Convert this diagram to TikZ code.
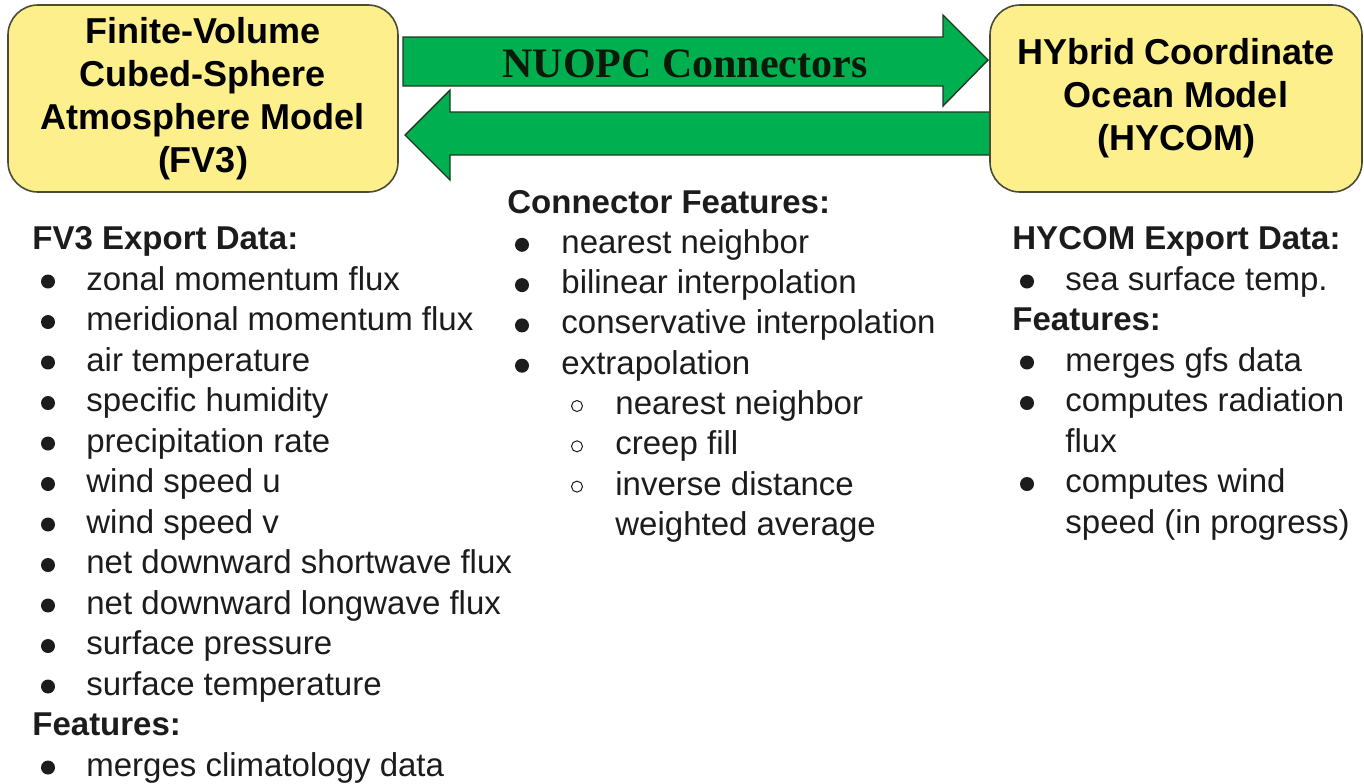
\documentclass[tikz,border=0pt]{standalone}
\usepackage{fontspec}
\setmainfont{Liberation Sans}
\newfontfamily\connfont{Liberation Serif}
\usetikzlibrary{positioning}
\definecolor{modelyellow}{HTML}{FCEF8C}
\definecolor{boxedge}{HTML}{4A4A3A}
\definecolor{nuopcgreen}{HTML}{00B050}
\definecolor{arrowedge}{HTML}{1E3A1E}
\definecolor{nuopcdark}{HTML}{0A1A0A}
\definecolor{listtext}{HTML}{1C1C1C}
\tikzset{
  model/.style={
    rectangle, draw=boxedge, fill=modelyellow, rounded corners=15pt,
    minimum width=#1, minimum height=93.5pt, line width=0.8pt,
    align=center, font=\bfseries\fontsize{18}{21.5}\selectfont
  },
  blockarrow/.style={fill=nuopcgreen, draw=arrowedge, line width=0.7pt, line join=miter},
  heading/.style={anchor=base west, inner sep=0pt, text=listtext, font=\bfseries\fontsize{16.5}{20}\selectfont},
  item/.style={anchor=base west, inner sep=0pt, text=listtext, font=\fontsize{16.5}{20}\selectfont},
  dot/.style={circle, fill=listtext, inner sep=0pt, minimum size=7pt},
  ring/.style={circle, draw=listtext, line width=0.5pt, inner sep=0pt, minimum size=5.5pt},
}
\begin{document}
\begin{tikzpicture}[x=0.5pt, y=-0.5pt]
\useasboundingbox (0,0) rectangle (1364,783);

% Connector arrows
\draw[blockarrow] (403,37) -- (943,37) -- (943,15) -- (988,60) -- (943,106) -- (943,86) -- (403,86) -- cycle;
\draw[blockarrow] (990,112) -- (450,112) -- (450,90) -- (405,135) -- (450,180) -- (450,155) -- (990,155) -- cycle;
\node[font=\connfont\bfseries\fontsize{21}{24}\selectfont, text=nuopcdark, inner sep=0pt, anchor=base] (nuopc) at (685,77) {NUOPC Connectors};

% Model boxes
\node[model=195pt] (fv3) at (203,98.5) {Finite-Volume\\Cubed-Sphere\\Atmosphere Model\\(FV3)};
\node[model=186pt] (hycom) at (1176,98.5) {HYbrid Coordinate\\Ocean Model\\(HYCOM)};

% FV3 list
\node[heading] (fvhead) at (32,249.5) {FV3 Export Data:};
\foreach \txt [count=\i] in {zonal momentum flux, meridional momentum flux, air temperature,
  specific humidity, precipitation rate, wind speed u, wind speed v,
  net downward shortwave flux, net downward longwave flux, surface pressure,
  surface temperature} {
  \node[item] (fvitem\i) at (86,249.5+40.5*\i) {\txt};
  \node[dot] (fvdot\i) at (48,241+40.5*\i) {};
}
\node[heading] (fvfeat) at (32,735.5) {Features:};
\node[item] (fvmerge) at (86,776) {merges climatology data};
\node[dot] (fvmergedot) at (48,767.5) {};

% Connector list
\node[heading] (connhead) at (507,213) {Connector Features:};
\foreach \txt [count=\i] in {nearest neighbor, bilinear interpolation,
  conservative interpolation, extrapolation} {
  \node[item] (conn\i) at (561,213+40.3*\i) {\txt};
  \node[dot] (conndot\i) at (522,204.5+40.3*\i) {};
}
\foreach \txt [count=\i from 5] in {nearest neighbor, creep fill, inverse distance} {
  \node[item] (extra\i) at (615,213+40.3*\i) {\txt};
  \node[ring] (extraring\i) at (577,204.5+40.3*\i) {};
}
\node[item] (extra8) at (615,535.5) {weighted average};

% HYCOM list
\node[heading] (hyhead) at (1012,249.5) {HYCOM Export Data:};
\node[item] (hysst) at (1065,290) {sea surface temp.};
\node[dot] (hysstdot) at (1027,281.5) {};
\node[heading] (hyfeat) at (1012,330.5) {Features:};
\node[item] (hygfs) at (1065,371) {merges gfs data};
\node[dot] (hygfsdot) at (1027,362.5) {};
\node[item] (hyrad) at (1065,411.5) {computes radiation};
\node[dot] (hyraddot) at (1027,403) {};
\node[item] (hyflux) at (1065,452) {flux};
\node[item] (hywind) at (1065,492.5) {computes wind};
\node[dot] (hywinddot) at (1027,484) {};
\node[item] (hyspeed) at (1065,533) {speed (in progress)};

\end{tikzpicture}
\end{document}
